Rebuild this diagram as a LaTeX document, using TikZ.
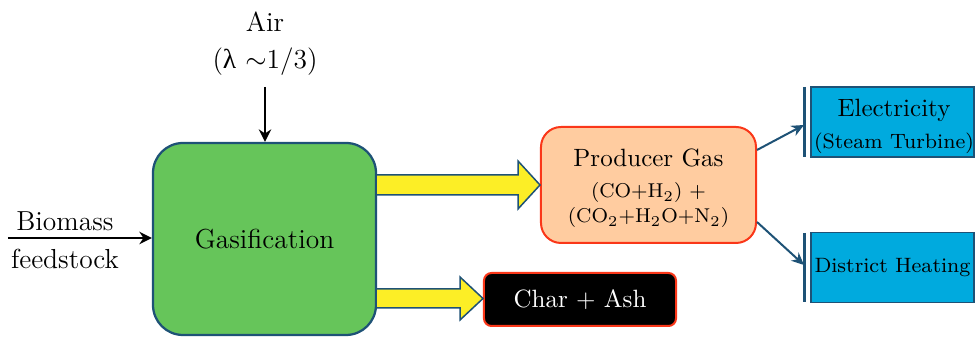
\documentclass[tikz,border=0pt]{standalone}
\usepackage{fontspec}
\newfontfamily\lamfont{Liberation Serif}
\usetikzlibrary{arrows.meta,calc}
\definecolor{gasgreen}{RGB}{102,197,90}
\definecolor{edgeblue}{RGB}{30,82,118}
\definecolor{arrowyellow}{RGB}{252,238,38}
\definecolor{peach}{RGB}{255,204,160}
\definecolor{redline}{RGB}{250,55,25}
\definecolor{cyanbox}{RGB}{0,170,222}
\newcommand{\fsA}{\fontsize{11}{13}\selectfont}
\newcommand{\fsB}{\fontsize{10}{12}\selectfont}
\newcommand{\fsC}{\fontsize{8}{9.5}\selectfont}
\newcommand{\fsD}{\fontsize{8.3}{10}\selectfont}
\newcommand{\fsE}{\fontsize{10}{12}\selectfont}
\begin{document}
\begin{tikzpicture}[x=0.4pt,y=-0.4pt,
  gasbox/.style={draw=edgeblue,line width=0.9pt,fill=gasgreen,rounded corners=12pt,minimum width=89.2pt,minimum height=76.8pt,inner sep=0pt,font=\fsA},
  prodbox/.style={draw=redline,line width=0.8pt,fill=peach,rounded corners=8pt,minimum width=86pt,minimum height=46.4pt,inner sep=0pt,align=center},
  charbox/.style={draw=redline,line width=0.8pt,fill=black,text=white,rounded corners=3pt,minimum width=76.8pt,minimum height=21.2pt,inner sep=0pt,font=\fsB},
  outbox/.style={draw=edgeblue,line width=0.6pt,fill=cyanbox,minimum width=65.2pt,minimum height=28pt,inner sep=0pt,align=center},
  lbl/.style={font=\fsA,inner sep=0pt},
  yarrow/.style={draw=edgeblue,line width=0.6pt,fill=arrowyellow},
  blk/.style={-{Stealth[length=5pt,width=5pt]},line width=1pt,black},
  blu/.style={-{Stealth[length=5pt,width=4.5pt]},line width=0.8pt,edgeblue},
  bar/.style={draw=edgeblue,line width=1.2pt}
]
\useasboundingbox (0,0) rectangle (976,338);

\node[gasbox] (gas) at (264.5,239) {Gasification};
\node[prodbox] (prod) at (648.5,185) {};
\node[inner sep=0pt,font=\fsB] (pg) at (648.5,158) {Producer Gas};
\node[inner sep=0pt,font=\fsC] (pg2) at (648.5,193) {(CO+H\textsubscript{2}) +};
\node[inner sep=0pt,font=\fsC] (pg3) at (648.5,218) {(CO\textsubscript{2}+H\textsubscript{2}O+N\textsubscript{2})};
\node[charbox] (char) at (580,299.5) {Char + Ash};
\node[outbox] (elec) at (892.5,122) {};
\node[inner sep=0pt,font=\fsE] (el1) at (894,110) {Electricity};
\node[inner sep=0pt,font=\fsD] (el2) at (894,143) {(Steam Turbine)};
\node[outbox,font=\fsD] (heat) at (892.5,267.5) {District Heating};

\node[lbl] (air) at (265,22) {Air};
\node[lbl] (lam) at (265,62) {({\lamfont λ} $\sim$1/3)};
\node[lbl] (bio) at (65,221) {Biomass};
\node[lbl] (feed) at (65,259) {feedstock};

\coordinate (airtop) at (265,87);
\coordinate (biol) at (8,238);
\draw[blk] (airtop) -- (airtop |- gas.north);
\draw[blk] (biol) -- (biol -| gas.west);

% yellow arrows
\draw[yarrow] (gas.east |- 0,175) -- (518,175) -- (518,161) -- (540,185) -- (518,209) -- (518,195) -- (gas.east |- 0,195);
\draw[yarrow] (gas.east |- 0,289) -- (460,289) -- (460,277) -- (483,298.5) -- (460,320) -- (460,308) -- (gas.east |- 0,308);

% bars
\coordinate (b1t) at (804,87); \coordinate (b1b) at (804,157);
\coordinate (b2t) at (804,233); \coordinate (b2b) at (804,302);
\draw[bar] (b1t) -- (b1b);
\draw[bar] (b2t) -- (b2b);
\coordinate (e1) at (804,125);
\coordinate (e2) at (804,265);
\draw[blu] (prod.east |- 0,150) -- (e1);
\draw[blu] (prod.east |- 0,222) -- (e2);
\end{tikzpicture}
\end{document}
